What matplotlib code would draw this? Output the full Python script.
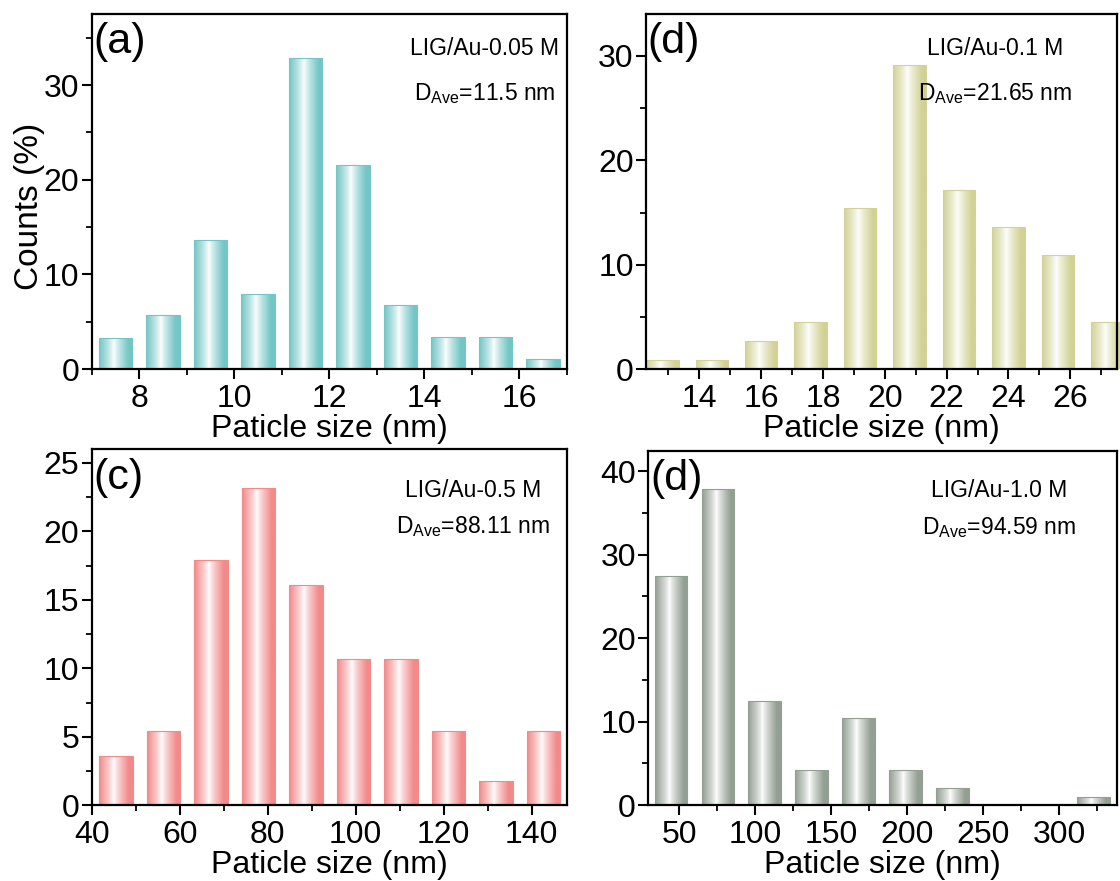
import numpy as np
import matplotlib
matplotlib.use("Agg")
import matplotlib.pyplot as plt
from matplotlib.ticker import MultipleLocator
from matplotlib.colors import to_rgb

plt.rcParams['font.family'] = ['Liberation Sans', 'DejaVu Sans']
plt.rcParams['mathtext.fontset'] = 'custom'
plt.rcParams['mathtext.rm'] = 'Liberation Sans'
plt.rcParams['mathtext.it'] = 'Liberation Sans'

# data
a_size = [7.5, 8.5, 9.5, 10.5, 11.5, 12.5, 13.5, 14.5, 15.5, 16.5]
a_count = [3.3, 5.7, 13.6, 7.9, 32.9, 21.6, 6.8, 3.4, 3.4, 1.1]

b_size = [12.8, 14.4, 16.0, 17.6, 19.2, 20.8, 22.4, 24.0, 25.6, 27.2]
b_count = [0.9, 0.9, 2.7, 4.5, 15.4, 29.1, 17.2, 13.6, 10.9, 4.5]

c_size = [45.5, 56.3, 67.1, 77.9, 88.7, 99.5, 110.3, 121.1, 131.9, 142.7]
c_count = [3.6, 5.4, 17.9, 23.2, 16.1, 10.7, 10.7, 5.4, 1.8, 5.4]

d_size = [44.4, 75.3, 106.2, 137.1, 168.0, 198.9, 229.8, 260.7, 291.6, 322.5]
d_count = [27.4, 37.9, 12.5, 4.2, 10.5, 4.2, 2.1, 0, 0, 1.0]

labels = ["(a)", "(d)", "(c)", "(d)"]
samples = ["LIG/Au-0.05 M", "LIG/Au-0.1 M", "LIG/Au-0.5 M", "LIG/Au-1.0 M"]
d_ave = ["11.5", "21.65", "88.11", "94.59"]


def gradient_bars(ax, x, h, width, color):
    bars = ax.bar(x, h, width=width, color='none', edgecolor=color, linewidth=0.8, zorder=2)
    c = np.array(to_rgb(color))
    t = np.linspace(0, 1, 200)
    w = np.clip(np.abs(t - 0.44) / 0.44, 0, 1) ** 0.8
    img = (1 - w)[:, None] * np.ones(3) + w[:, None] * c
    img = img[None, :, :]
    for r in bars:
        if r.get_height() <= 0:
            continue
        x0, y0 = r.get_x(), r.get_y()
        im = ax.imshow(img, extent=[x0, x0 + r.get_width(), y0, y0 + r.get_height()],
                       aspect='auto', zorder=1, interpolation='bilinear')
        im.set_clip_path(r)
    return bars


fig = plt.figure(figsize=(11.2, 8.81), dpi=100)
ax_a = fig.add_axes([0.082, 0.581, 0.424, 0.403])
ax_b = fig.add_axes([0.577, 0.581, 0.420, 0.403])
ax_c = fig.add_axes([0.082, 0.086, 0.424, 0.404])
ax_d = fig.add_axes([0.579, 0.086, 0.418, 0.402])

gradient_bars(ax_a, a_size, a_count, 0.7, '#74c6c6')
gradient_bars(ax_b, b_size, b_count, 1.05, '#d2d296')
gradient_bars(ax_c, c_size, c_count, 7.6, '#f28a8a')
gradient_bars(ax_d, d_size, d_count, 21.6, '#949f94')

ax_a.set_xlim(7, 17); ax_a.set_ylim(0, 37.5)
ax_a.xaxis.set_major_locator(MultipleLocator(2)); ax_a.xaxis.set_minor_locator(MultipleLocator(1))
ax_a.yaxis.set_major_locator(MultipleLocator(10)); ax_a.yaxis.set_minor_locator(MultipleLocator(5))

ax_b.set_xlim(12.28, 27.5); ax_b.set_ylim(0, 34)
ax_b.xaxis.set_major_locator(MultipleLocator(2)); ax_b.xaxis.set_minor_locator(MultipleLocator(1))
ax_b.yaxis.set_major_locator(MultipleLocator(10)); ax_b.yaxis.set_minor_locator(MultipleLocator(5))

ax_c.set_xlim(40, 148); ax_c.set_ylim(0, 26)
ax_c.xaxis.set_major_locator(MultipleLocator(20)); ax_c.xaxis.set_minor_locator(MultipleLocator(10))
ax_c.yaxis.set_major_locator(MultipleLocator(5)); ax_c.yaxis.set_minor_locator(MultipleLocator(2.5))

ax_d.set_xlim(29.6, 337.6); ax_d.set_ylim(0, 42.4)
ax_d.xaxis.set_major_locator(MultipleLocator(50)); ax_d.xaxis.set_minor_locator(MultipleLocator(25))
ax_d.yaxis.set_major_locator(MultipleLocator(10)); ax_d.yaxis.set_minor_locator(MultipleLocator(5))

text_pos = [(0.827, 0.904, 0.777), (0.741, 0.904, 0.777), (0.803, 0.885, 0.784), (0.749, 0.89, 0.785)]

for ax, lab, s, dv, tp in zip([ax_a, ax_b, ax_c, ax_d], labels, samples, d_ave, text_pos):
    for sp in ax.spines.values():
        sp.set_linewidth(1.6)
    ax.tick_params(which='major', direction='out', length=7, width=1.5, labelsize=23,
                   top=False, right=False)
    ax.tick_params(axis='y', which='major', pad=2)
    ax.tick_params(which='minor', direction='out', length=4, width=1.3, top=False, right=False)
    ax.set_xlabel("Paticle size (nm)", fontsize=23, labelpad=0)
    ax.text(0.003, 0.92, lab, transform=ax.transAxes, fontsize=31, va='center', ha='left')
    ax.text(tp[0], tp[1], s, transform=ax.transAxes, fontsize=16.5, ha='center', va='center')
    ax.text(tp[0], tp[2], r"D$_{\mathrm{Ave}}$=" + dv + " nm", transform=ax.transAxes,
            fontsize=16.5, ha='center', va='center')

ax_a.set_ylabel("Counts (%)", fontsize=24)
ax_a.yaxis.set_label_coords(-0.099, 0.459)

fig.savefig("out.png", dpi=100)
